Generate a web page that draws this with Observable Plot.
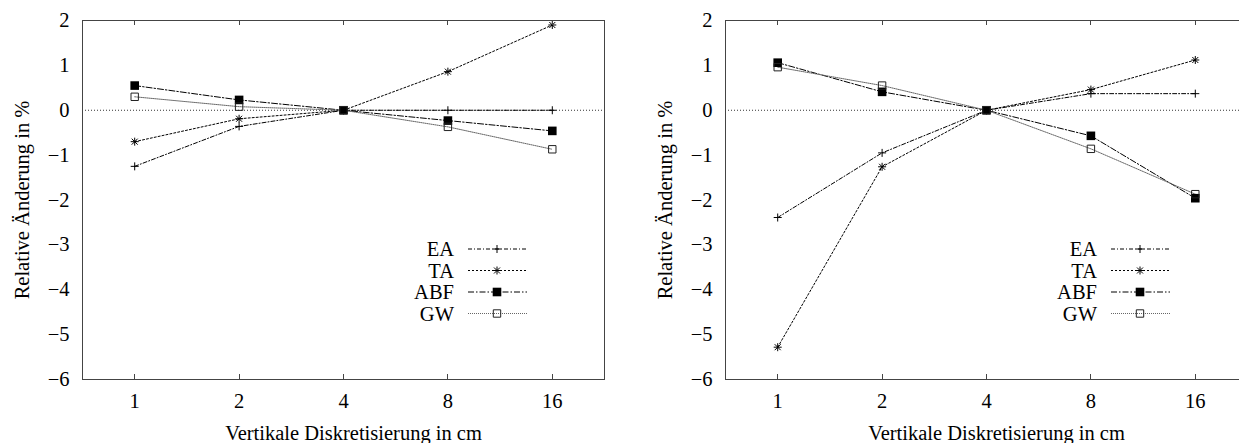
<!DOCTYPE html>
<html>
<head>
<meta charset="utf-8">
<script src="https://cdn.jsdelivr.net/npm/d3@7"></script>
<script src="https://cdn.jsdelivr.net/npm/@observablehq/plot@0.6"></script>
<style>
  html, body { margin: 0; padding: 0; background: #fff; overflow: hidden; }
  #charts { position: relative; width: 1239px; height: 443px; overflow: hidden; }
  #charts > svg { position: absolute; top: 0; }
</style>
</head>
<body>
<div id="charts"></div>
<script>
// Grid spacing in cm (log2 axis) and relative change ticks
const xTicks = [1, 2, 4, 8, 16];
const yTicks = [-6, -5, -4, -3, -2, -1, 0, 1, 2];
const seriesNames = ["EA", "TA", "ABF", "GW"];

// Left panel: relative change in % per vertical resolution
const eaLeft  = [-1.25, -0.36, 0, 0.00, 0.00];
const taLeft  = [-0.70, -0.19, 0, 0.86, 1.90];
const abfLeft = [0.55, 0.23, 0, -0.23, -0.46];
const gwLeft  = [0.30, 0.08, 0, -0.37, -0.87];

// Right panel
const eaRight  = [-2.39, -0.95, 0, 0.37, 0.37];
const taRight  = [-5.28, -1.26, 0, 0.46, 1.12];
const abfRight = [1.06, 0.41, 0, -0.57, -1.96];
const gwRight  = [0.96, 0.55, 0, -0.86, -1.87];

const xLabel = "Vertikale Diskretisierung in cm";
const yLabel = "Relative Änderung in %";

// Point symbols in gnuplot style
const plusSymbol = {draw(c) { const r = 4; c.moveTo(-r, 0); c.lineTo(r, 0); c.moveTo(0, -r); c.lineTo(0, r); }};
const starSymbol = {draw(c) {
  const r = 4, d = 3;
  c.moveTo(-r, 0); c.lineTo(r, 0); c.moveTo(0, -r); c.lineTo(0, r);
  c.moveTo(-d, -d); c.lineTo(d, d); c.moveTo(-d, d); c.lineTo(d, -d);
}};
const boxSymbol = {draw(c) { const h = 4.3; c.rect(-h, -h, 2 * h, 2 * h); }};
const openBoxSymbol = {draw(c) { const h = 3.7; c.rect(-h, -h, 2 * h, 2 * h); }};

const seriesStyle = {
  EA:  {dash: "4,2,1,2", line: "#000", symbol: plusSymbol, fill: "none", stroke: "#000"},
  TA:  {dash: "2,2", line: "#000", symbol: starSymbol, fill: "none", stroke: "#000"},
  ABF: {dash: "6,2,1.5,2", line: "#000", symbol: boxSymbol, fill: "#000", stroke: "none"},
  GW:  {dash: "1,1", line: "#666", symbol: openBoxSymbol, fill: "none", stroke: "#222"}
};

const frameColor = "#444";
const fontFamily = "'Liberation Serif', 'Times New Roman', serif";
const fontSize = 20.5;

// Inward ticks on the bottom and top edges of the frame
function xTickMarks(index, scales, values, dims) {
  const g = d3.create("svg:g").attr("stroke", frameColor).attr("stroke-width", 1);
  const top = dims.marginTop, bottom = dims.height - dims.marginBottom;
  for (const t of xTicks) {
    const x = Math.round(scales.x(t)) + 0.5;
    g.append("line").attr("x1", x).attr("x2", x).attr("y1", top).attr("y2", top + 5);
    g.append("line").attr("x1", x).attr("x2", x).attr("y1", bottom).attr("y2", bottom - 5);
  }
  return g.node();
}

// Key inside the plot area, lower right
function legendMark(index, scales, values, dims) {
  const g = d3.create("svg:g");
  const left = dims.marginLeft, top = dims.marginTop;
  seriesNames.forEach((name, i) => {
    const s = seriesStyle[name];
    const y = top + 229 + i * 21.5;
    g.append("text")
      .attr("x", left + 372).attr("y", y).attr("dy", "0.35em")
      .attr("text-anchor", "end").attr("fill", "#000")
      .attr("font-family", fontFamily).attr("font-size", fontSize)
      .text(name);
    g.append("line")
      .attr("x1", left + 386).attr("x2", left + 445).attr("y1", y).attr("y2", y)
      .attr("stroke", s.line).attr("stroke-width", 1).attr("stroke-dasharray", s.dash);
    g.append("path")
      .attr("transform", `translate(${left + 415},${y})`)
      .attr("d", d3.symbol(s.symbol)())
      .attr("fill", s.fill).attr("stroke", s.stroke).attr("stroke-width", 1);
  });
  return g.node();
}

function panel(seriesValues, {width, marginLeft, marginRight}) {
  const lines = [], dots = [];
  seriesNames.forEach((name, i) => {
    const s = seriesStyle[name];
    const rows = xTicks.map((x, j) => ({x, y: seriesValues[i][j]}));
    lines.push(Plot.line(rows, {x: "x", y: "y", stroke: s.line, strokeWidth: 1, strokeDasharray: s.dash}));
    dots.push(Plot.dot(rows, {x: "x", y: "y", symbol: s.symbol, r: 4, fill: s.fill, stroke: s.stroke, strokeWidth: 1}));
  });
  return Plot.plot({
    width,
    height: 443,
    marginLeft,
    marginRight,
    marginTop: 20,
    marginBottom: 64,
    style: {fontFamily, fontSize: `${fontSize}px`, color: "#000", background: "#fff"},
    x: {type: "log", base: 2, domain: [Math.SQRT1_2, 16 * Math.SQRT2]},
    y: {domain: [-6, 2]},
    marks: [
      Plot.ruleY([0], {stroke: "#000", strokeWidth: 0.8, strokeDasharray: "1,2"}),
      ...lines,
      ...dots,
      Plot.frame({stroke: frameColor, strokeWidth: 1}),
      xTickMarks,
      Plot.axisX({ticks: xTicks, tickFormat: (d) => String(d), tickSize: 0, tickPadding: 14, label: null, fill: "#000"}),
      Plot.axisY({ticks: yTicks, tickFormat: (d) => (d < 0 ? "\u2212" + (-d) : String(d)), tickSize: 0, tickPadding: 13, label: null, fill: "#000"}),
      Plot.text([xLabel], {frameAnchor: "bottom", dx: 10, dy: 54, lineAnchor: "middle", textAnchor: "middle", fill: "#000"}),
      Plot.text([yLabel], {frameAnchor: "left", dx: -60, rotate: -90, textAnchor: "middle", lineAnchor: "middle", fill: "#000"}),
      legendMark
    ]
  });
}

const container = document.getElementById("charts");
const leftChart = panel([eaLeft, taLeft, abfLeft, gwLeft], {width: 620, marginLeft: 82, marginRight: 16});
leftChart.style.left = "0px";
const rightChart = panel([eaRight, taRight, abfRight, gwRight], {width: 640, marginLeft: 105, marginRight: 13});
rightChart.style.left = "620px";
container.append(leftChart, rightChart);
</script>
</body>
</html>
